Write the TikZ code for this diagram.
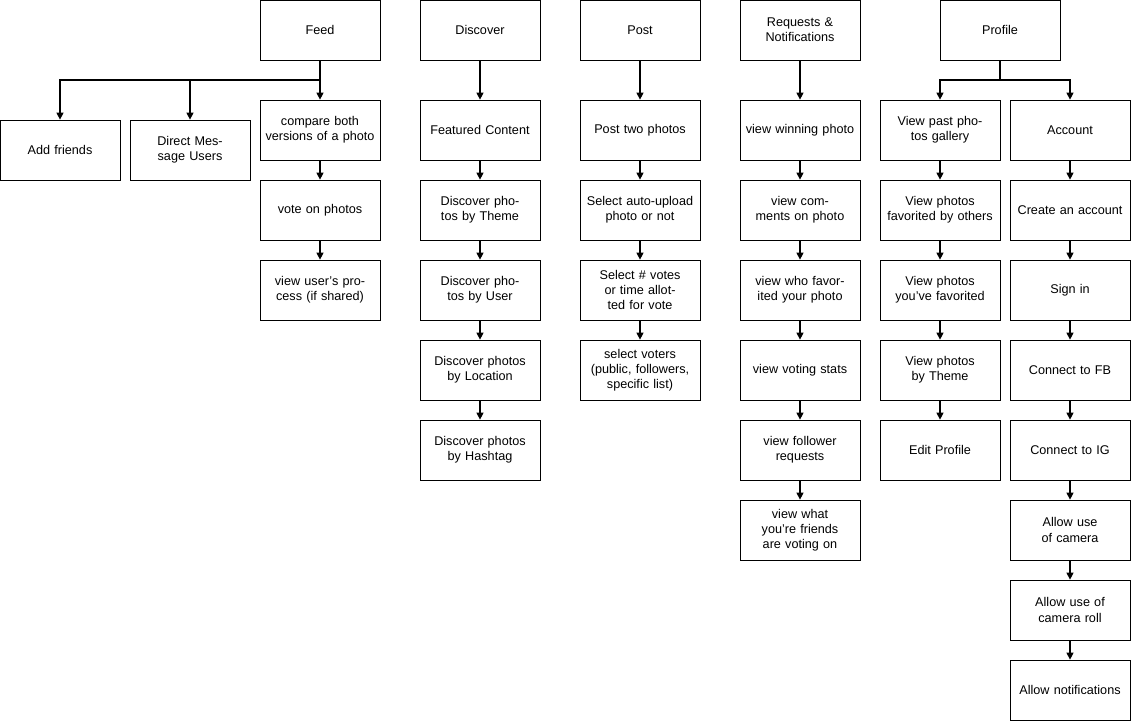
\documentclass[tikz,border=0pt]{standalone}
\usepackage{fontspec}
\setmainfont{Liberation Sans}
\usetikzlibrary{arrows.meta}
\begin{document}
\begin{tikzpicture}[x=0.02cm,y=-0.02cm,
    box/.style={draw, fill=white, minimum width=2.4cm, minimum height=1.2cm,
        text width=2.3cm, align=center, inner sep=1pt,
        font=\fontsize{7.2}{8.6}\selectfont},
    arr/.style={-{Triangle[length=4pt,width=4pt]}, semithick}]
    \useasboundingbox (0,0) rectangle (1132,722);
    % feed
    \node[box] (feed) at (320,30) {Feed};
    \node[box] (friends) at (60,150) {Add friends};
    \node[box] (dm) at (190,150) {Direct Message Users};
    \node[box] (compare) at (320,130) {compare both versions of a photo};
    \node[box] (vote) at (320,210) {vote on photos};
    \node[box] (process) at (320,290) {view user's process (if shared)};
    % discover
    \node[box] (disc) at (480,30) {Discover};
    \node[box] (feat) at (480,130) {Featured Content};
    \node[box] (theme) at (480,210) {Discover photos by Theme};
    \node[box] (user) at (480,290) {Discover photos by User};
    \node[box] (loc) at (480,370) {Discover photos by Location};
    \node[box] (tag) at (480,450) {Discover photos by Hashtag};
    % post
    \node[box] (post) at (640,30) {Post};
    \node[box] (two) at (640,130) {Post two photos};
    \node[box] (auto) at (640,210) {Select auto-upload photo or not};
    \node[box] (votes) at (640,290) {Select \# votes or time allotted for vote};
    \node[box] (voters) at (640,370) {select voters (public, followers, specific list)};
    % requests
    \node[box] (req) at (800,30) {Requests \&\\Notifications};
    \node[box] (win) at (800,130) {view winning photo};
    \node[box] (comm) at (800,210) {view comments on photo};
    \node[box] (who) at (800,290) {view who favorited your photo};
    \node[box] (stats) at (800,370) {view voting stats};
    \node[box] (follow) at (800,450) {view follower requests};
    \node[box] (what) at (800,530) {view what you're friends are voting on};
    % profile
    \node[box] (prof) at (1000,30) {Profile};
    \node[box] (past) at (940,130) {View past photos gallery};
    \node[box] (favby) at (940,210) {View photos favorited by others};
    \node[box] (fav) at (940,290) {View photos you've favorited};
    \node[box] (ptheme) at (940,370) {View photos by Theme};
    \node[box] (edit) at (940,450) {Edit Profile};
    \node[box] (acc) at (1070,130) {Account};
    \node[box] (create) at (1070,210) {Create an account};
    \node[box] (sign) at (1070,290) {Sign in};
    \node[box] (fb) at (1070,370) {Connect to FB};
    \node[box] (ig) at (1070,450) {Connect to IG};
    \node[box] (cam) at (1070,530) {Allow use of camera};
    \node[box] (roll) at (1070,610) {Allow use of camera roll};
    \node[box] (notif) at (1070,690) {Allow notifications};
    \coordinate (fsplit) at (320,80);
    \coordinate (psplit) at (1000,80);
    % branches
    \draw[semithick] (feed.south) -- (fsplit);
    \foreach \t in {friends,dm,compare}
        \draw[arr] (fsplit) -| (\t.north);
    \draw[semithick] (prof.south) -- (psplit);
    \foreach \t in {past,acc}
        \draw[arr] (psplit) -| (\t.north);
    % chains
    \foreach \a/\b in {compare/vote,vote/process,disc/feat,feat/theme,theme/user,
        user/loc,loc/tag,post/two,two/auto,auto/votes,votes/voters,req/win,win/comm,
        comm/who,who/stats,stats/follow,follow/what,past/favby,favby/fav,fav/ptheme,
        ptheme/edit,acc/create,create/sign,sign/fb,fb/ig,ig/cam,cam/roll,roll/notif}
        \draw[arr] (\a) -- (\b);
\end{tikzpicture}
\end{document}
